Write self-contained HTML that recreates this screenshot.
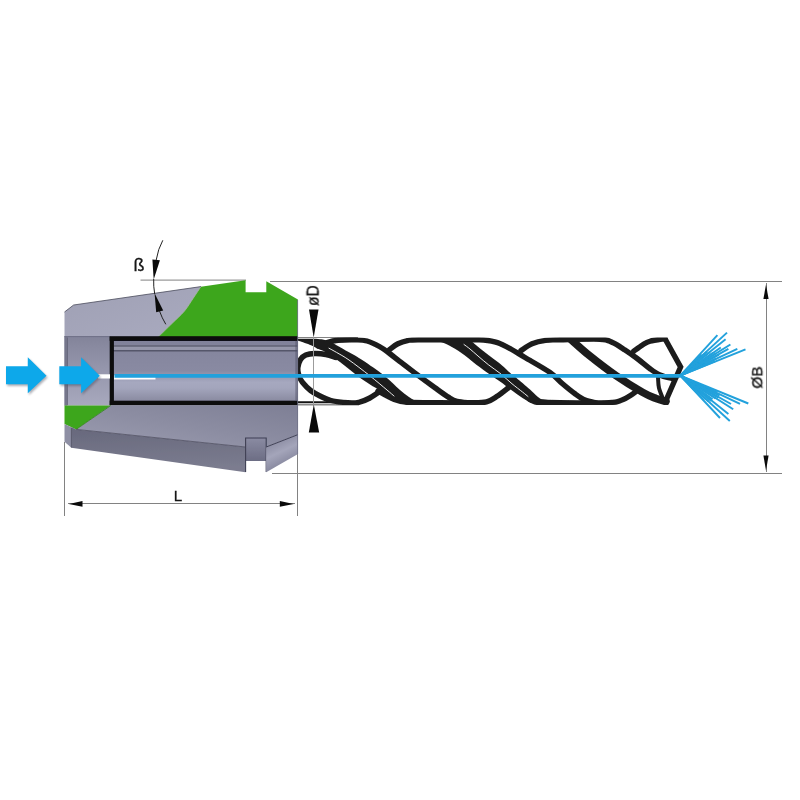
<!DOCTYPE html>
<html><head><meta charset="utf-8"><title>Collet</title>
<style>html,body{margin:0;padding:0;background:#ffffff;width:800px;height:800px;overflow:hidden}svg{display:block}</style>
</head><body>
<svg width="800" height="800" viewBox="0 0 800 800">
<defs>
<linearGradient id="gBore" x1="0" y1="0" x2="0" y2="1">
 <stop offset="0" stop-color="#80819a"/>
 <stop offset="0.095" stop-color="#82839b"/>
 <stop offset="0.10" stop-color="#696a7e"/>
 <stop offset="0.122" stop-color="#696a7e"/>
 <stop offset="0.128" stop-color="#9798ac"/>
 <stop offset="0.17" stop-color="#9495a9"/>
 <stop offset="0.176" stop-color="#55566a"/>
 <stop offset="0.196" stop-color="#55566a"/>
 <stop offset="0.205" stop-color="#85869e"/>
 <stop offset="0.5" stop-color="#898aa2"/>
 <stop offset="0.6" stop-color="#9a9cb4"/>
 <stop offset="0.68" stop-color="#a6a8bf"/>
 <stop offset="0.77" stop-color="#a3a5bc"/>
 <stop offset="0.95" stop-color="#8c8da3"/>
 <stop offset="1" stop-color="#84859b"/>
</linearGradient>
<linearGradient id="gRecess" x1="0" y1="0" x2="0" y2="1">
 <stop offset="0" stop-color="#83849a"/>
 <stop offset="0.5" stop-color="#9697ad"/>
 <stop offset="1" stop-color="#a8a9bd"/>
</linearGradient>
<linearGradient id="gUpper" x1="0" y1="0" x2="1" y2="1">
 <stop offset="0" stop-color="#9fa0b4"/>
 <stop offset="1" stop-color="#a9aabf"/>
</linearGradient>
<linearGradient id="gFace" x1="1" y1="0" x2="0" y2="1">
 <stop offset="0" stop-color="#7e7f95"/>
 <stop offset="0.5" stop-color="#8c8da2"/>
 <stop offset="1" stop-color="#9c9db1"/>
</linearGradient>
<linearGradient id="gCone" x1="0" y1="0" x2="0.15" y2="1">
 <stop offset="0" stop-color="#67687c"/>
 <stop offset="1" stop-color="#7b7c8f"/>
</linearGradient>
<linearGradient id="gRight" x1="0" y1="0" x2="0.4" y2="1">
 <stop offset="0" stop-color="#77788f"/>
 <stop offset="0.55" stop-color="#a4a5ba"/>
 <stop offset="1" stop-color="#7d7e95"/>
</linearGradient>
<linearGradient id="gNotch" x1="0" y1="0" x2="0" y2="1">
 <stop offset="0" stop-color="#8a8ba2"/>
 <stop offset="1" stop-color="#6c6d84"/>
</linearGradient>
<clipPath id="clipDrill"><rect x="296" y="337.4" width="400" height="67.6"/></clipPath>
<filter id="soft" x="-5%" y="-5%" width="110%" height="110%"><feGaussianBlur stdDeviation="0.45"/></filter>
<filter id="soft2" x="-5%" y="-5%" width="110%" height="110%"><feGaussianBlur stdDeviation="0.35"/></filter>
<filter id="shadow" x="-20%" y="-20%" width="150%" height="150%"><feGaussianBlur stdDeviation="1.2"/></filter>
</defs>
<rect width="800" height="800" fill="#ffffff"/>
<g stroke="#828282" stroke-width="1" fill="none">
<path d="M140.5 280.1H246"/>
<path d="M270 281.5H782"/>
<path d="M272 473.5H782"/>
<path d="M766.5 283V472"/>
<path d="M64.5 442V516"/>
<path d="M297.5 454V516"/>
<path d="M68 503.5H295"/>
<path d="M298 337.5H358"/>
</g>
<path d="M298 404.5H359" stroke="#8a8a8a" stroke-width="1.9" fill="none"/>
<path d="M298 402.1H345" stroke="#151515" stroke-width="1.7" fill="none"/>
<g clip-path="url(#clipDrill)"><g filter="url(#soft)" fill="none" stroke="#1c1c1c" stroke-linecap="round" stroke-linejoin="round">
<g stroke-width="5.4">
<path d="M336.00 357.50 C334.33 357.00 329.54 355.17 326.00 354.50 C322.46 353.83 318.12 353.42 314.75 353.50 C311.38 353.58 308.12 354.00 305.75 355.00 C303.38 356.00 301.82 357.33 300.50 359.50 C299.18 361.67 298.05 365.25 297.80 368.00 C297.55 370.75 298.23 373.62 299.00 376.00 C299.77 378.38 300.47 379.88 302.40 382.30 C304.33 384.72 307.67 388.22 310.60 390.50 C313.53 392.78 316.60 394.33 320.00 396.00 C323.40 397.67 326.37 399.37 331.00 400.50 C335.63 401.63 343.17 402.50 347.80 402.80 C352.43 403.10 355.13 403.10 358.80 402.30 C362.47 401.50 365.68 400.22 369.80 398.00 C373.92 395.78 381.22 390.50 383.50 389.00"/>
<path d="M318.00 346.00 C319.50 345.42 323.67 343.45 327.00 342.50 C330.33 341.55 333.17 340.75 338.00 340.30 C342.83 339.85 351.17 339.68 356.00 339.80 C360.83 339.92 363.10 339.88 367.00 341.00 C370.90 342.12 375.73 344.50 379.40 346.50 C383.07 348.50 385.57 350.48 389.00 353.00 C392.43 355.52 395.77 358.33 400.00 361.60 C404.23 364.87 408.57 368.24 414.40 372.60 C420.23 376.96 429.27 383.62 435.00 387.75 C440.73 391.88 445.13 395.14 448.80 397.40 C452.47 399.66 453.47 400.40 457.00 401.30 C460.53 402.20 467.83 402.55 470.00 402.80"/>
<path d="M389.60 349.50 C390.98 348.54 394.92 345.23 397.90 343.75 C400.88 342.27 404.07 341.26 407.50 340.60 C410.93 339.94 408.08 339.93 418.50 339.80 C428.92 339.67 459.12 339.77 470.00 339.80 C480.88 339.83 479.17 339.53 483.75 340.00 C488.33 340.47 492.92 341.06 497.50 342.60 C502.08 344.14 506.67 346.77 511.25 349.25 C515.83 351.73 518.54 353.62 525.00 357.50 C531.46 361.38 543.75 368.12 550.00 372.50 C556.25 376.88 558.33 380.21 562.50 383.75 C566.67 387.29 571.25 391.04 575.00 393.75 C578.75 396.46 581.50 398.49 585.00 400.00 C588.50 401.51 594.17 402.33 596.00 402.80"/>
<path d="M521.00 350.60 C522.83 349.46 527.90 345.47 532.00 343.75 C536.10 342.03 540.93 340.96 545.60 340.30 C550.27 339.64 550.93 339.98 560.00 339.80 C569.07 339.62 591.25 338.75 600.00 339.20 C608.75 339.65 608.33 340.70 612.50 342.50 C616.67 344.30 620.83 347.29 625.00 350.00 C629.17 352.71 633.33 355.62 637.50 358.75 C641.67 361.88 646.25 366.04 650.00 368.75 C653.75 371.46 656.33 373.38 660.00 375.00 C663.67 376.62 670.00 377.92 672.00 378.50"/>
<path d="M633.75 351.25 C635.21 350.21 639.79 346.67 642.50 345.00 C645.21 343.33 646.25 342.33 650.00 341.25 C653.75 340.17 662.50 338.96 665.00 338.50"/>
<path d="M378.00 391.00 C380.62 392.37 388.83 397.33 393.75 399.20 C398.67 401.07 399.79 401.60 407.50 402.20 C415.21 402.80 429.58 402.70 440.00 402.80 C450.42 402.90 462.25 402.97 470.00 402.80 C477.75 402.63 481.92 402.93 486.50 401.80 C491.08 400.67 493.83 398.34 497.50 396.00 C501.17 393.66 506.67 389.12 508.50 387.75"/>
<path d="M530.00 399.50 C531.50 399.88 534.00 401.25 539.00 401.80 C544.00 402.35 548.33 402.63 560.00 402.80 C571.67 402.97 598.67 403.27 609.00 402.80 C619.33 402.33 618.17 401.38 622.00 400.00 C625.83 398.62 629.50 396.08 632.00 394.50 C634.50 392.92 636.17 391.17 637.00 390.50"/>
<path d="M665.0 338.8 L680.6 367.0 L665.3 402.0" stroke-linejoin="miter"/>
<path d="M658.00 377.00 C658.17 378.83 658.08 384.17 659.00 388.00 C659.92 391.83 662.75 398.00 663.50 400.00" stroke-width="4"/>
</g>
<path d="M560.00 330.00 C561.83 331.58 566.21 335.33 571.00 339.50 C575.79 343.67 581.25 348.98 588.75 355.00 C596.25 361.02 607.04 369.40 616.00 375.60 C624.96 381.80 635.83 388.38 642.50 392.20 C649.17 396.02 652.08 396.95 656.00 398.50 C659.92 400.05 664.33 401.00 666.00 401.50" stroke-width="7.6"/>
<path d="M296.00 338.70 C299.67 338.73 312.67 338.55 318.00 338.90 C323.33 339.25 324.92 339.74 328.00 340.80 C331.08 341.86 333.00 343.33 336.50 345.25 C340.00 347.17 344.58 349.76 349.00 352.30 C353.42 354.84 357.17 356.63 363.00 360.50 C368.83 364.37 377.83 370.58 384.00 375.50 C390.17 380.42 395.33 386.08 400.00 390.00 C404.67 393.92 407.83 396.58 412.00 399.00 C416.17 401.42 421.67 403.33 425.00 404.50 C428.33 405.67 430.83 405.75 432.00 406.00 L410.00 406.00 C408.33 405.42 403.33 403.92 400.00 402.50 C396.67 401.08 393.33 399.50 390.00 397.50 C386.67 395.50 383.33 392.67 380.00 390.50 C376.67 388.33 373.83 387.00 370.00 384.50 C366.17 382.00 362.00 379.25 357.00 375.50 C352.00 371.75 345.17 365.85 340.00 362.00 C334.83 358.15 329.58 354.57 326.00 352.40 C322.42 350.23 321.00 350.19 318.50 349.00 C316.00 347.81 314.25 346.57 311.00 345.25 C307.75 343.93 301.50 341.93 299.00 341.10 C296.50 340.28 296.50 340.43 296.00 340.30 Z" fill="#1c1c1c" stroke="none"/>
<path d="M440.00 336.00 C443.75 336.25 457.33 336.67 462.50 337.50 C467.67 338.33 468.17 339.25 471.00 341.00 C473.83 342.75 476.04 345.25 479.50 348.00 C482.96 350.75 488.08 354.67 491.75 357.50 C495.42 360.33 498.38 362.37 501.50 365.00 C504.62 367.63 508.00 371.13 510.50 373.30 C513.00 375.47 513.25 375.30 516.50 378.00 C519.75 380.70 526.42 386.33 530.00 389.50 C533.58 392.67 535.00 394.67 538.00 397.00 C541.00 399.33 545.00 402.00 548.00 403.50 C551.00 405.00 554.67 405.58 556.00 406.00 L540.00 406.00 C538.67 405.58 534.92 404.83 532.00 403.50 C529.08 402.17 525.83 400.17 522.50 398.00 C519.17 395.83 515.75 393.25 512.00 390.50 C508.25 387.75 503.62 384.12 500.00 381.50 C496.38 378.88 494.12 377.50 490.25 374.75 C486.38 372.00 480.54 367.88 476.75 365.00 C472.96 362.12 471.12 360.21 467.50 357.50 C463.88 354.79 459.17 351.25 455.00 348.75 C450.83 346.25 446.67 343.96 442.50 342.50 C438.33 341.04 432.08 340.42 430.00 340.00 Z" fill="#1c1c1c" stroke="none"/>
<path d="M329.00 348.25 C330.25 348.94 333.17 350.44 336.50 352.40 C339.83 354.36 343.50 356.15 349.00 360.00 C354.50 363.85 363.17 370.50 369.50 375.50 C375.83 380.50 382.92 386.58 387.00 390.00 C391.08 393.42 392.83 395.00 394.00 396.00" stroke="#ededed" stroke-width="1.0"/>
<path d="M464.00 344.50 C465.00 345.25 467.67 347.08 470.00 349.00 C472.33 350.92 474.88 353.33 478.00 356.00 C481.12 358.67 485.08 362.12 488.75 365.00 C492.42 367.88 496.12 370.12 500.00 373.25 C503.88 376.38 508.25 380.62 512.00 383.75 C515.75 386.88 519.83 389.88 522.50 392.00 C525.17 394.12 527.08 395.75 528.00 396.50" stroke="#ededed" stroke-width="1.0"/>
</g></g>
<path d="M313.5 337V405" stroke="#9c9c9c" stroke-width="1" fill="none"/>
<g filter="url(#soft2)">
<path d="M64.5 337 L64.5 312 L73.6 305 L201 286.6 L196 300 L186 312 L160 337 Z" fill="url(#gUpper)"/>
<path d="M158.60 336.60 C160.92 334.33 168.18 327.27 172.50 323.00 C176.82 318.73 181.05 315.12 184.50 311.00 C187.95 306.88 190.48 302.28 193.20 298.25 C195.92 294.22 199.53 288.71 200.80 286.80 L245.6 280.2 L245.6 292.3 L266.3 292.3 L266.3 281.3 L297.9 299.4 L297.9 337 L158.6 337 Z" fill="#3ea61d"/>
<path d="M158.60 336.60 C160.92 334.33 168.18 327.27 172.50 323.00 C176.82 318.73 181.05 315.12 184.50 311.00 C187.95 306.88 190.48 302.28 193.20 298.25 C195.92 294.22 199.53 288.71 200.80 286.80" stroke="#a9b8a6" stroke-width="0.8" fill="none"/>
<path d="M64.5 312 L73.6 305 L201 286.6" stroke="#4a4b5c" stroke-width="0.8" fill="none"/>
<rect x="64.5" y="336.3" width="46" height="69.3" fill="url(#gRecess)"/>
<rect x="64.5" y="336.3" width="2.8" height="69.3" fill="#75768b"/>
<path d="M67.5 337.5V405" stroke="#5d5e72" stroke-width="0.7"/>
<path d="M64.5 336.6 L110 336.6" stroke="#6f7086" stroke-width="1"/>
<rect x="111.8" y="338.6" width="186.2" height="64.4" fill="url(#gBore)"/>
<path d="M298 338.6 H111.8 V403 H298" fill="none" stroke="#0a0a0e" stroke-width="4.2"/>
<rect x="109.7" y="400.7" width="188.3" height="4.7" fill="#0a0a0e"/>
<rect x="109.7" y="336.4" width="188.3" height="4.4" fill="#0a0a0e"/>
<path d="M110 406.3H298" stroke="#5c5d6c" stroke-width="1.3"/>
<rect x="295.3" y="340.8" width="2.7" height="60" fill="#4a4b60" opacity="0.45"/>
<path d="M64.5 405.4 L110.6 405.4 L76.2 429.4 L64.5 424 Z" fill="#3ea61d"/>
<path d="M110.6 405.2 L298 405.2 L298 434.6 L266 447 L266 438 L245.6 438 L245.6 447 L76.2 429.4 Z" fill="url(#gFace)"/>
<path d="M110.6 405.6 L76.2 429.4" stroke="#2f7f17" stroke-width="0.8" fill="none"/>
<path d="M76.2 429.4 L245.6 447 L245.6 472.3 L71.2 447.8 L71.2 427 Z" fill="url(#gCone)"/>
<path d="M76.2 429.4 L245.6 447" stroke="#4c4d60" stroke-width="0.8" fill="none"/>
<path d="M64.5 424 L71.4 427.2 L71.4 447.8 L64.5 441.8 Z" fill="#8e8fa4"/>
<path d="M71.4 428 V447.5" stroke="#4c4d60" stroke-width="0.8"/>
<rect x="245.6" y="438" width="20.6" height="23" fill="url(#gNotch)"/>
<path d="M245.6 472 V438 H266.2 V472" stroke="#3e3f54" stroke-width="1.1" fill="none"/>
<path d="M266.2 447 L298 434.6 L298 454 L266.2 472.3 Z" fill="url(#gRight)"/>
<path d="M266.2 447 L298 434.6" stroke="#3e3f54" stroke-width="1" fill="none"/>
<path d="M297.6 300 V454" stroke="#6d6e84" stroke-width="0.8" fill="none"/>
</g>
<g fill="#0a0a0a">
<path d="M309 309.5 L318.5 309.5 L313.7 337.5 Z"/>
<path d="M308.8 432.5 L319.2 432.5 L313.8 404.5 Z"/>
<path d="M68.8 503.9 L82.5 501.1 L82.5 506.7 Z"/>
<path d="M293.8 503.9 L279.8 501.1 L279.8 506.7 Z"/>
<path d="M766 284.5 L763.4 299 L768.6 299 Z"/>
<path d="M766 470.5 L763.4 455.6 L768.6 455.6 Z"/>
<path d="M152.4 259.6 L159.9 260.3 L153.7 279.6 Z"/>
<path d="M154.6 293.2 L156.2 312.3 L163.2 310.6 Z"/>
</g>
<path d="M162.8 240.3 Q158 249 156.2 260" stroke="#222" stroke-width="1" fill="none"/>
<path d="M153.7 279 Q153.3 286 154.7 294" stroke="#222" stroke-width="1" fill="none"/>
<path d="M159.5 311 Q162 318 165.8 324.3" stroke="#222" stroke-width="1" fill="none"/>
<g filter="url(#soft2)">
<rect x="98" y="374.3" width="12" height="4.2" fill="#ffffff"/>
<rect x="114" y="375.3" width="41.5" height="4.2" fill="#ffffff"/>
<path d="M114.5 375.6 H680" stroke="#21a1dc" stroke-width="4.1" fill="none"/>
</g>
<g filter="url(#soft2)" stroke="#21a1dc" stroke-width="1.95" stroke-linecap="butt" fill="none">
<path d="M680.3 375.6 L717.4 335.1"/>
<path d="M680.3 375.6 L727.0 332.6"/>
<path d="M680.3 375.6 L725.6 339.2"/>
<path d="M680.3 375.6 L730.4 344.5"/>
<path d="M680.3 375.6 L728.4 348.8"/>
<path d="M680.3 375.6 L737.3 348.8"/>
<path d="M680.3 375.6 L745.5 349.3"/>
<path d="M680.3 375.6 L720.8 347.5"/>
<path d="M680.3 375.6 L748.3 403.5"/>
<path d="M680.3 375.6 L740.0 403.8"/>
<path d="M680.3 375.6 L731.0 404.0"/>
<path d="M680.3 375.6 L733.2 409.3"/>
<path d="M680.3 375.6 L728.4 414.0"/>
<path d="M680.3 375.6 L729.8 421.0"/>
<path d="M680.3 375.6 L720.0 418.0"/>
<path d="M680.3 375.6 L701.5 354.4"/>
<path d="M680.3 375.6 L707.1 351.5"/>
<path d="M680.3 375.6 L710.0 351.9"/>
<path d="M680.3 375.6 L713.1 352.7"/>
<path d="M680.3 375.6 L715.9 353.3"/>
<path d="M680.3 375.6 L719.0 354.6"/>
<path d="M680.3 375.6 L716.4 358.4"/>
<path d="M680.3 375.6 L715.4 361.1"/>
<path d="M680.3 375.6 L701.7 357.6"/>
<path d="M680.3 375.6 L706.3 360.6"/>
<path d="M680.3 375.6 L716.7 392.2"/>
<path d="M680.3 375.6 L719.5 395.6"/>
<path d="M680.3 375.6 L718.4 397.6"/>
<path d="M680.3 375.6 L715.5 398.5"/>
<path d="M680.3 375.6 L712.5 399.4"/>
<path d="M680.3 375.6 L711.2 401.0"/>
<path d="M680.3 375.6 L708.3 401.3"/>
<path d="M680.3 375.6 L703.9 400.1"/>
<path d="M680.3 375.6 L706.7 389.9"/>
<path d="M680.3 375.6 L702.4 392.8"/>
</g>
<path d="M6.00 366.20 L27.80 366.20 L27.80 357.20 L46.50 375.70 L27.80 393.30 L27.80 384.30 L6.00 384.30 Z" fill="#4a4a5a" opacity="0.45" filter="url(#shadow)" transform="translate(1.2,1.8)"/>
<path d="M6.00 366.20 L27.80 366.20 L27.80 357.20 L46.50 375.70 L27.80 393.30 L27.80 384.30 L6.00 384.30 Z" fill="#0fa8ea" filter="url(#soft2)"/>
<path d="M59.30 366.20 L81.10 366.20 L81.10 357.20 L99.80 375.70 L81.10 393.30 L81.10 384.30 L59.30 384.30 Z" fill="#4a4a5a" opacity="0.45" filter="url(#shadow)" transform="translate(1.2,1.8)"/>
<path d="M59.30 366.20 L81.10 366.20 L81.10 357.20 L99.80 375.70 L81.10 393.30 L81.10 384.30 L59.30 384.30 Z" fill="#0fa8ea" filter="url(#soft2)"/>
<g font-family="'Liberation Sans', sans-serif" fill="#141414" stroke="#141414" stroke-width="0.3" filter="url(#soft2)">
<text x="133.5" y="271.3" font-size="18">ß</text>
<text x="173.7" y="500.6" font-size="15.2">L</text>
<text transform="translate(318.6,306) rotate(-90) scale(0.95,1)" font-size="16.3">øD</text>
<text transform="translate(762.3,388.6) rotate(-90)" font-size="15.4">ØB</text>
</g>
</svg>
</body></html>
